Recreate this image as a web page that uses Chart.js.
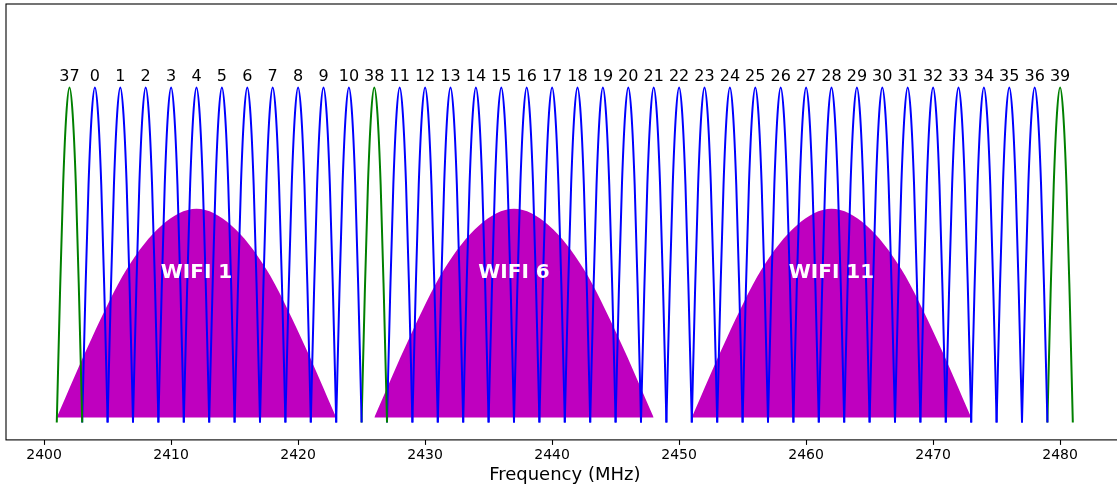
<!DOCTYPE html>
<html>
<head>
<meta charset="utf-8">
<script src="https://cdn.jsdelivr.net/npm/chart.js@4.4.1/dist/chart.umd.min.js"></script>
<style>
  html, body { margin: 0; padding: 0; background: #fff; overflow: hidden; }
  #wrap { position: relative; width: 1130px; height: 489px; }
</style>
</head>
<body>
<div id="wrap"><canvas id="bleChart"></canvas></div>
<script>
// BLE channels in frequency order
const channelNumbers = [37, 0, 1, 2, 3, 4, 5, 6, 7, 8, 9, 10, 38, 11, 12, 13, 14, 15, 16, 17, 18, 19,
  20, 21, 22, 23, 24, 25, 26, 27, 28, 29, 30, 31, 32, 33, 34, 35, 36, 39];
const channelFreqs = [2402, 2404, 2406, 2408, 2410, 2412, 2414, 2416, 2418, 2420, 2422, 2424, 2426,
  2428, 2430, 2432, 2434, 2436, 2438, 2440, 2442, 2444, 2446, 2448, 2450, 2452, 2454, 2456, 2458,
  2460, 2462, 2464, 2466, 2468, 2470, 2472, 2474, 2476, 2478, 2480];
const advertisingChannels = [37, 38, 39];
const bleHalfWidth = 1;
const blePeak = 1;

// WiFi channels
const wifiNames = ["WIFI 1", "WIFI 6", "WIFI 11"];
const wifiFreqs = [2412, 2437, 2462];
const wifiHalfWidth = 11;
const wifiBase = 0.012;
const wifiPeak = 0.637;

// arch profile (relative offset, relative height)
const shapeOffsets = [-1, -0.75, -0.5, -0.25, 0, 0.25, 0.5, 0.75, 1];
const shapeHeights = [0, 0.38, 0.71, 0.92, 1, 0.92, 0.71, 0.38, 0];

const freqTicks = [2400, 2410, 2420, 2430, 2440, 2450, 2460, 2470, 2480];

Chart.defaults.font.family = "'DejaVu Sans', sans-serif";
Chart.defaults.color = "#000";

const datasets = [];

channelFreqs.forEach((f, i) => {
  const isAdv = advertisingChannels.includes(channelNumbers[i]);
  datasets.push({
    label: "ch " + channelNumbers[i],
    data: shapeOffsets.map((o, k) => ({ x: f + o * bleHalfWidth, y: shapeHeights[k] * blePeak })),
    borderColor: isAdv ? "#008000" : "#0000ff",
    borderWidth: 2,
    borderCapStyle: "square",
    pointRadius: 0,
    fill: false,
    cubicInterpolationMode: "monotone",
    order: 0,
  });
});

wifiFreqs.forEach((f, i) => {
  datasets.push({
    label: wifiNames[i],
    data: shapeOffsets.map((o, k) => ({
      x: f + o * wifiHalfWidth,
      y: wifiBase + shapeHeights[k] * (wifiPeak - wifiBase),
    })),
    borderWidth: 0,
    borderColor: "rgba(0,0,0,0)",
    backgroundColor: "#bf00bf",
    pointRadius: 0,
    fill: { value: wifiBase },
    cubicInterpolationMode: "monotone",
    order: 1,
  });
});

// frame and text labels
const annotations = {
  id: "annotations",
  afterDatasetsDraw(chart) {
    const { ctx, scales } = chart;
    const x = scales.x, y = scales.y;
    ctx.save();
    ctx.fillStyle = "#000";
    ctx.font = "16px 'DejaVu Sans'";
    ctx.textAlign = "center";
    ctx.textBaseline = "alphabetic";
    channelFreqs.forEach((f, i) => {
      ctx.fillText(String(channelNumbers[i]), x.getPixelForValue(f), y.getPixelForValue(1.018));
    });
    ctx.fillStyle = "#fff";
    ctx.font = "bold 20px 'DejaVu Sans'";
    ctx.textBaseline = "middle";
    wifiFreqs.forEach((f, i) => {
      ctx.fillText(wifiNames[i], x.getPixelForValue(f), y.getPixelForValue(0.446));
    });
    ctx.restore();
  },
  afterDraw(chart) {
    const { ctx, chartArea } = chart;
    ctx.save();
    ctx.strokeStyle = "#000";
    ctx.lineWidth = 1.1;
    ctx.strokeRect(chartArea.left, chartArea.top, chartArea.right - chartArea.left, chartArea.bottom - chartArea.top);
    ctx.restore();
  },
};

new Chart(document.getElementById("bleChart"), {
  type: "line",
  data: { datasets },
  options: {
    responsive: true,
    maintainAspectRatio: false,
    animation: false,
    layout: { padding: { left: 6, top: 4, right: 6.4, bottom: 0 } },
    plugins: { legend: { display: false }, tooltip: { enabled: false } },
    scales: {
      x: {
        type: "linear",
        min: 2397,
        max: 2485,
        afterBuildTicks: (scale) => {
          scale.ticks = freqTicks.map((v) => ({ value: v }));
        },
        ticks: {
          autoSkip: false,
          maxRotation: 0,
          padding: 2,
          font: { size: 14 },
          color: "#000",
          callback: (v) => String(v),
        },
        grid: { drawOnChartArea: false, drawTicks: true, tickLength: 5, tickColor: "#000", tickWidth: 1.1 },
        border: { display: false },
        title: {
          display: true,
          text: "Frequency (MHz)",
          font: { size: 18 },
          color: "#000",
          padding: { top: -1, bottom: 2.7 },
        },
      },
      y: { display: false, min: -0.055, max: 1.25 },
    },
  },
  plugins: [annotations],
});
</script>
</body>
</html>
